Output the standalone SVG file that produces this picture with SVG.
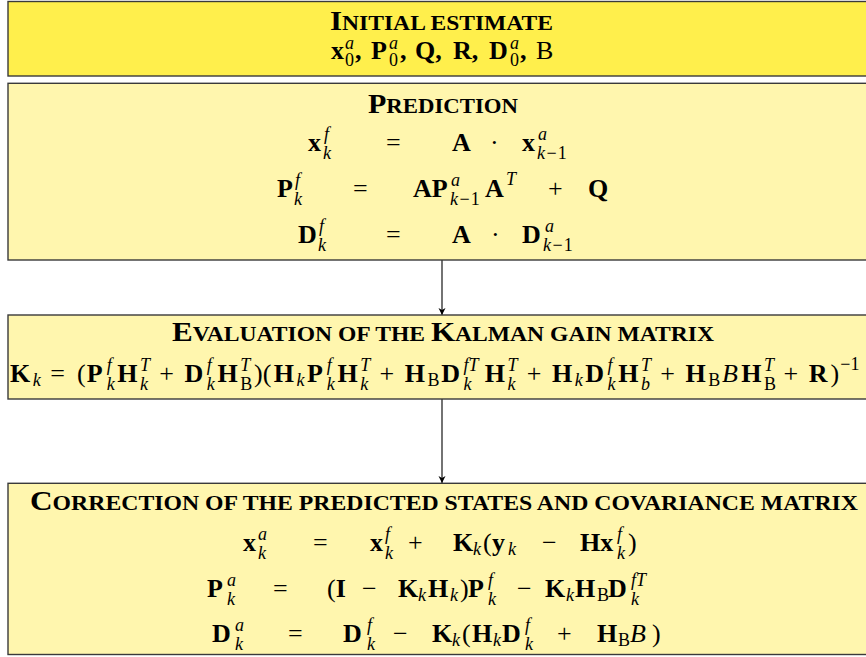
<svg xmlns="http://www.w3.org/2000/svg" width="866" height="657" viewBox="0 0 866 657">
<defs>
<style>
.box{stroke:#3a3a3a;stroke-width:1.4}
.y1{fill:#FFEF4C}
.y2{fill:#FFF6AE}
text{font-family:"Liberation Serif","Times New Roman",serif;fill:#000}
.tc{font-weight:bold;font-size:27px}
.ts{font-weight:bold;font-size:20.5px}
.b{font-weight:bold;font-size:26px}
.r{font-size:26px}
.ri{font-style:italic;font-size:26px}
.s{font-style:italic;font-size:18px}
.sr{font-size:18px}
.conn{stroke:#000;stroke-width:1.1;fill:none}
</style>
<marker id="ah" viewBox="0 0 10 10" refX="10" refY="5" markerWidth="7" markerHeight="8" markerUnits="userSpaceOnUse" orient="auto">
<path d="M0,0 L10,5 L0,10 L3,5 Z" fill="#000"/>
</marker>
</defs>

<g id="connectors">
<line class="conn" x1="442" y1="260" x2="442" y2="315" marker-end="url(#ah)"/>
<line class="conn" x1="442" y1="399" x2="442" y2="483" marker-end="url(#ah)"/>
</g>

<g id="initial">
<rect class="box y1" x="8" y="1.5" width="872" height="74.5"/>
<text x="330" y="30" textLength="223" lengthAdjust="spacingAndGlyphs"><tspan class="tc">I</tspan><tspan class="ts">NITIAL ESTIMATE</tspan></text>
<text>
<tspan class="b" x="331" y="59">x</tspan><tspan class="s" x="345" y="49">a</tspan><tspan class="sr" x="345" y="66">0</tspan><tspan class="b" x="355" y="59">,</tspan>
<tspan class="b" x="371" y="59">P</tspan><tspan class="s" x="389" y="49">a</tspan><tspan class="sr" x="389" y="66">0</tspan><tspan class="b" x="400" y="59">,</tspan>
<tspan class="b" x="415" y="59">Q,</tspan>
<tspan class="b" x="453" y="59">R,</tspan>
<tspan class="b" x="489" y="59">D</tspan><tspan class="s" x="510" y="49">a</tspan><tspan class="sr" x="510" y="66">0</tspan><tspan class="b" x="520" y="59">,</tspan>
<tspan class="r" x="536" y="59">B</tspan>
</text>
</g>

<g id="prediction">
<rect class="box y2" x="8" y="83.3" width="872" height="176.7"/>
<text x="368" y="113" textLength="150" lengthAdjust="spacingAndGlyphs"><tspan class="tc">P</tspan><tspan class="ts">REDICTION</tspan></text>
<text>
<tspan class="b" x="308" y="151">x</tspan><tspan class="s" x="324" y="140">f</tspan><tspan class="s" x="323" y="159">k</tspan>
<tspan class="r" x="386" y="151">=</tspan>
<tspan class="b" x="452" y="151">A</tspan>
<tspan class="r" x="490" y="151">·</tspan>
<tspan class="b" x="522" y="151">x</tspan><tspan class="s" x="538" y="140">a</tspan><tspan class="s" x="537" y="159">k</tspan><tspan class="sr" dx="1.5">−</tspan><tspan class="sr" dx="1">1</tspan>
</text>
<text>
<tspan class="b" x="277" y="197">P</tspan><tspan class="s" x="295" y="186">f</tspan><tspan class="s" x="294" y="205">k</tspan>
<tspan class="r" x="353" y="197">=</tspan>
<tspan class="b" x="413" y="197">AP</tspan><tspan class="s" x="451" y="186">a</tspan><tspan class="s" x="450" y="205">k</tspan><tspan class="sr" dx="1.5">−</tspan><tspan class="sr" dx="1">1</tspan>
<tspan class="b" x="485" y="197">A</tspan><tspan class="s" x="506" y="185">T</tspan>
<tspan class="r" x="548" y="197">+</tspan>
<tspan class="b" x="588" y="197">Q</tspan>
</text>
<text>
<tspan class="b" x="298" y="243">D</tspan><tspan class="s" x="319" y="232">f</tspan><tspan class="s" x="318" y="251">k</tspan>
<tspan class="r" x="386" y="243">=</tspan>
<tspan class="b" x="452" y="243">A</tspan>
<tspan class="r" x="491" y="243">·</tspan>
<tspan class="b" x="522" y="243">D</tspan><tspan class="s" x="545" y="232">a</tspan><tspan class="s" x="543" y="251">k</tspan><tspan class="sr" dx="1.5">−</tspan><tspan class="sr" dx="1">1</tspan>
</text>
</g>

<g id="gain">
<rect class="box y2" x="8" y="315" width="872" height="84"/>
<text x="172" y="341" textLength="542" lengthAdjust="spacingAndGlyphs"><tspan class="tc">E</tspan><tspan class="ts">VALUATION OF THE </tspan><tspan class="tc">K</tspan><tspan class="ts">ALMAN GAIN MATRIX</tspan></text>
<text>
<tspan class="b" x="10" y="382">K</tspan><tspan class="s" x="32.8" y="386">k</tspan>
<tspan class="r" x="50.3" y="382">=</tspan>
<tspan class="r" x="77" y="382">(</tspan>
<tspan class="b" x="86.8" y="382">P</tspan><tspan class="s" x="106.7" y="371">f</tspan><tspan class="s" x="106.7" y="390">k</tspan>
<tspan class="b" x="117.3" y="382">H</tspan><tspan class="s" x="140" y="371">T</tspan><tspan class="s" x="140" y="390">k</tspan>
<tspan class="r" x="159.3" y="382">+</tspan>
<tspan class="b" x="184.5" y="382">D</tspan><tspan class="s" x="206.8" y="371">f</tspan><tspan class="s" x="206.8" y="390">k</tspan>
<tspan class="b" x="217.4" y="382">H</tspan><tspan class="s" x="240.2" y="371">T</tspan><tspan class="sr" x="240.2" y="390">B</tspan>
<tspan class="r" x="254.1" y="382">)(</tspan>
<tspan class="b" x="273.7" y="382">H</tspan><tspan class="s" x="296.5" y="386">k</tspan>
<tspan class="b" x="307" y="382">P</tspan><tspan class="s" x="326.8" y="371">f</tspan><tspan class="s" x="326.8" y="390">k</tspan>
<tspan class="b" x="337.5" y="382">H</tspan><tspan class="s" x="360.2" y="371">T</tspan><tspan class="s" x="360.2" y="390">k</tspan>
<tspan class="r" x="379.5" y="382">+</tspan>
<tspan class="b" x="404.7" y="382">H</tspan><tspan class="sr" x="427.5" y="386">B</tspan>
<tspan class="b" x="441.3" y="382">D</tspan><tspan class="s" x="463.5" y="371">fT</tspan><tspan class="s" x="463.5" y="390">k</tspan>
<tspan class="b" x="484.8" y="382">H</tspan><tspan class="s" x="507.5" y="371">T</tspan><tspan class="s" x="507.5" y="390">k</tspan>
<tspan class="r" x="526.8" y="382">+</tspan>
<tspan class="b" x="552" y="382">H</tspan><tspan class="s" x="574.8" y="386">k</tspan>
<tspan class="b" x="585.3" y="382">D</tspan><tspan class="s" x="607.6" y="371">f</tspan><tspan class="s" x="607.6" y="390">k</tspan>
<tspan class="b" x="618.2" y="382">H</tspan><tspan class="s" x="640.9" y="371">T</tspan><tspan class="s" x="640.9" y="390">b</tspan>
<tspan class="r" x="660.2" y="382">+</tspan>
<tspan class="b" x="685.4" y="382">H</tspan><tspan class="sr" x="708.2" y="386">B</tspan>
<tspan class="ri" x="722" y="382">B</tspan>
<tspan class="b" x="741.2" y="382">H</tspan><tspan class="s" x="763.9" y="371">T</tspan><tspan class="sr" x="763.9" y="390">B</tspan>
<tspan class="r" x="783.4" y="382">+</tspan>
<tspan class="b" x="808.7" y="382">R</tspan>
<tspan class="r" x="830.5" y="382">)</tspan><tspan class="sr" x="840.3" y="370">−1</tspan>
</text>
</g>

<g id="correction">
<rect class="box y2" x="8" y="483.3" width="872" height="171.2"/>
<text x="30" y="510" textLength="828" lengthAdjust="spacingAndGlyphs"><tspan class="tc">C</tspan><tspan class="ts">ORRECTION OF THE PREDICTED STATES AND COVARIANCE MATRIX</tspan></text>
<text>
<tspan class="b" x="243" y="551">x</tspan><tspan class="s" x="258" y="540">a</tspan><tspan class="s" x="258" y="559">k</tspan>
<tspan class="r" x="313" y="551">=</tspan>
<tspan class="b" x="370" y="551">x</tspan><tspan class="s" x="385" y="540">f</tspan><tspan class="s" x="385" y="559">k</tspan>
<tspan class="r" x="408" y="551">+</tspan>
<tspan class="b" x="453" y="551">K</tspan><tspan class="s" x="473" y="555">k</tspan>
<tspan class="r" x="483" y="551">(</tspan>
<tspan class="b" x="492" y="551">y</tspan><tspan class="s" x="508" y="555">k</tspan>
<tspan class="r" x="542" y="551">−</tspan>
<tspan class="b" x="580" y="551">Hx</tspan><tspan class="s" x="617" y="540">f</tspan><tspan class="s" x="617" y="559">k</tspan>
<tspan class="r" x="628" y="551">)</tspan>
</text>
<text>
<tspan class="b" x="207" y="597">P</tspan><tspan class="s" x="227" y="586">a</tspan><tspan class="s" x="227" y="605">k</tspan>
<tspan class="r" x="273" y="597">=</tspan>
<tspan class="r" x="327" y="597">(</tspan><tspan class="b">I</tspan>
<tspan class="r" x="362" y="597">−</tspan>
<tspan class="b" x="398" y="597">K</tspan><tspan class="s" x="418" y="601">k</tspan>
<tspan class="b" x="428" y="597">H</tspan><tspan class="s" x="450" y="601">k</tspan>
<tspan class="r" x="460" y="597">)</tspan>
<tspan class="b" x="468" y="597">P</tspan><tspan class="s" x="488" y="586">f</tspan><tspan class="s" x="488" y="605">k</tspan>
<tspan class="r" x="517" y="597">−</tspan>
<tspan class="b" x="545" y="597">K</tspan><tspan class="s" x="566" y="601">k</tspan>
<tspan class="b" x="575" y="597">H</tspan><tspan class="sr" x="597" y="601">B</tspan>
<tspan class="b" x="608" y="597">D</tspan><tspan class="s" x="631" y="586">fT</tspan><tspan class="s" x="631" y="605">k</tspan>
</text>
<text>
<tspan class="b" x="212" y="642">D</tspan><tspan class="s" x="235" y="631">a</tspan><tspan class="s" x="235" y="650">k</tspan>
<tspan class="r" x="288" y="642">=</tspan>
<tspan class="b" x="343" y="642">D</tspan><tspan class="s" x="367" y="631">f</tspan><tspan class="s" x="367" y="650">k</tspan>
<tspan class="r" x="393" y="642">−</tspan>
<tspan class="b" x="432" y="642">K</tspan><tspan class="s" x="452" y="646">k</tspan>
<tspan class="r" x="462" y="642">(</tspan>
<tspan class="b" x="472" y="642">H</tspan><tspan class="s" x="493" y="646">k</tspan>
<tspan class="b" x="502" y="642">D</tspan><tspan class="s" x="525" y="631">f</tspan><tspan class="s" x="525" y="650">k</tspan>
<tspan class="r" x="557" y="642">+</tspan>
<tspan class="b" x="597" y="642">H</tspan><tspan class="sr" x="618" y="646">B</tspan>
<tspan class="ri" x="630" y="642">B</tspan>
<tspan class="r" x="652" y="642">)</tspan>
</text>
</g>
</svg>
